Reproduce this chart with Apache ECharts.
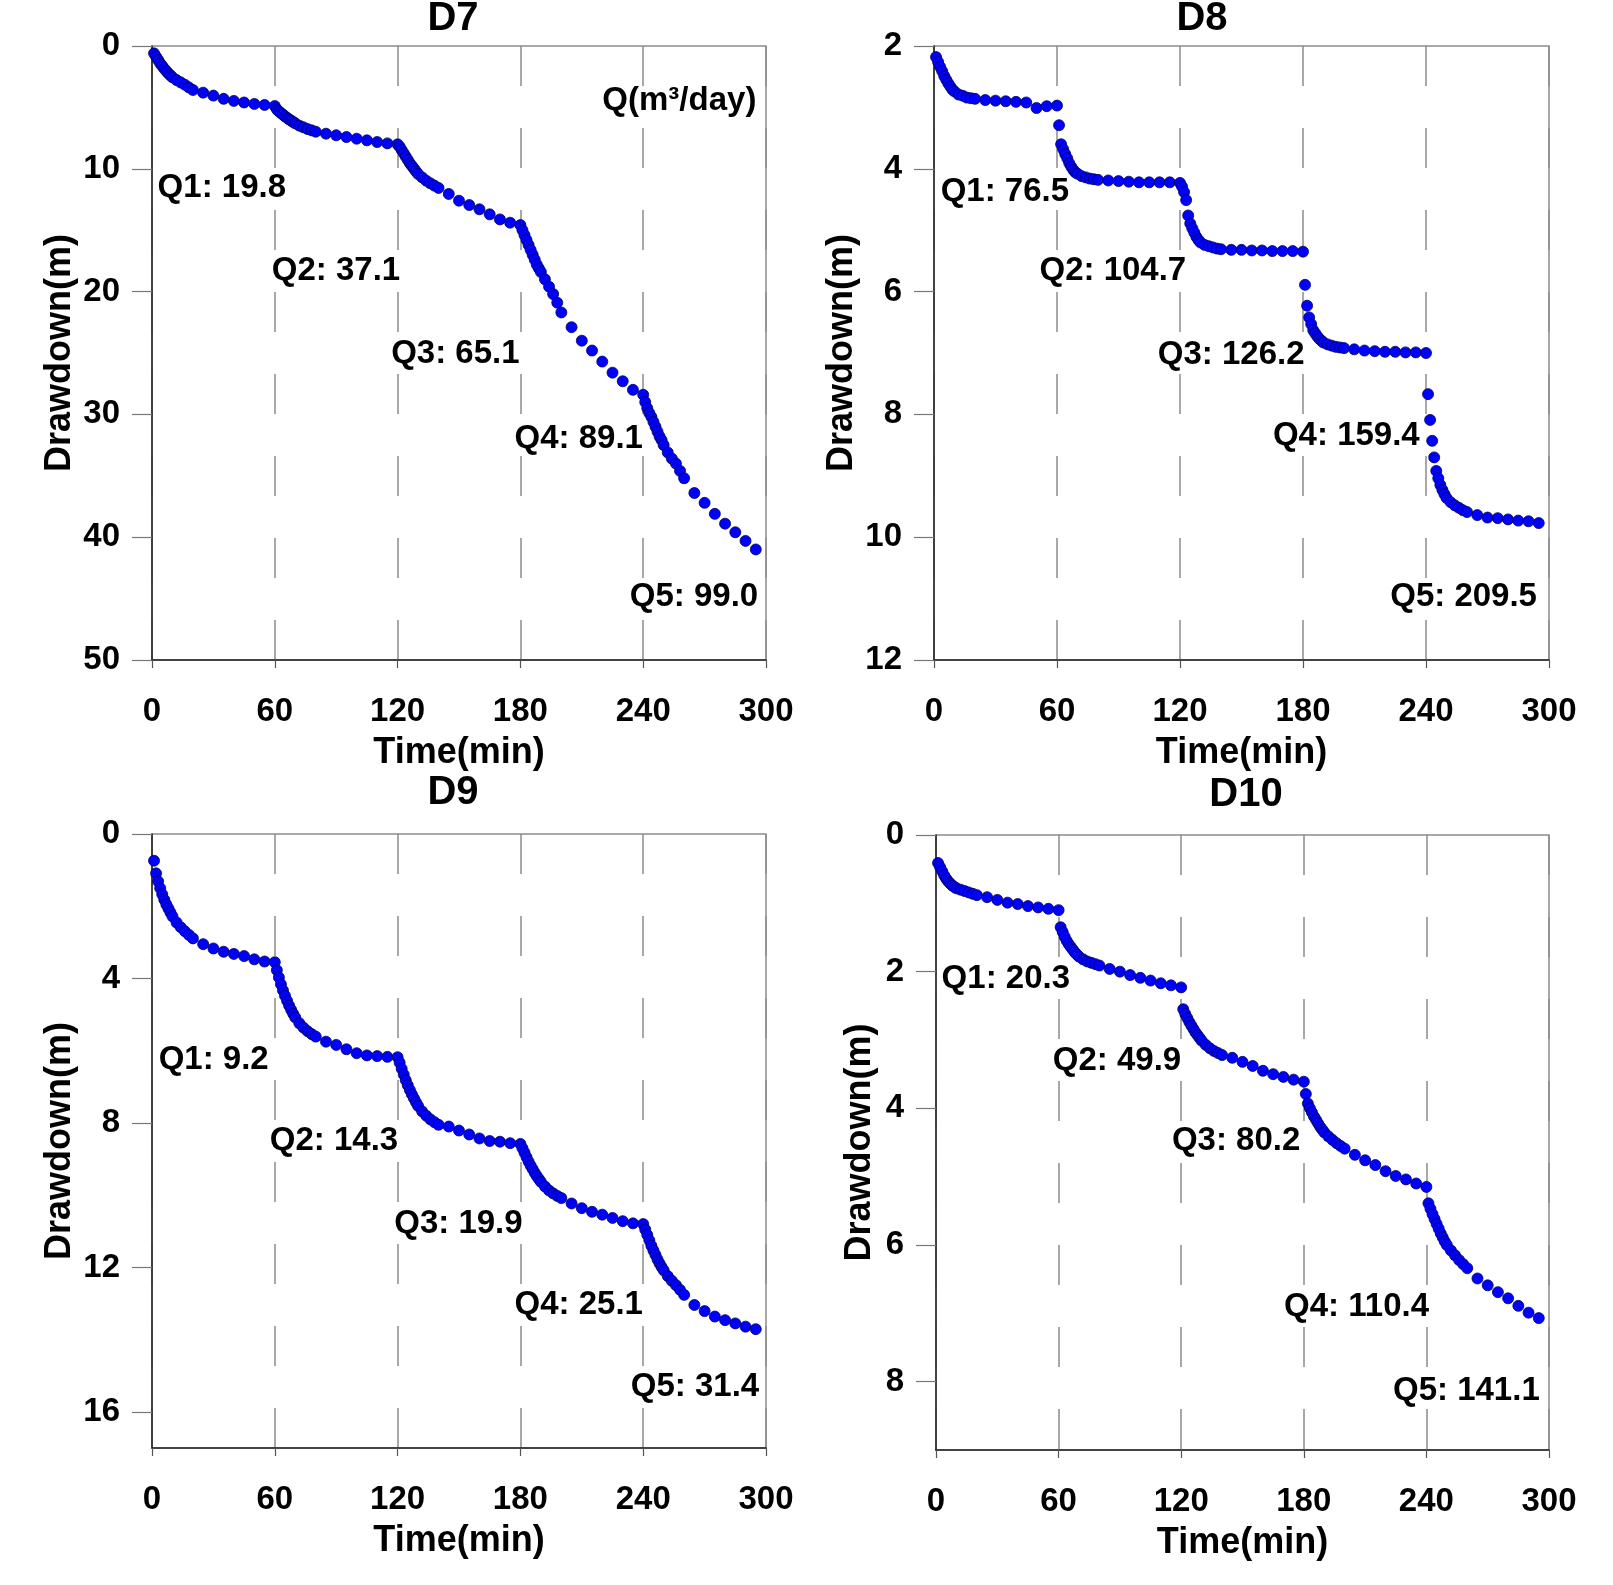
<!DOCTYPE html>
<html>
<head>
<meta charset="utf-8">
<script src="https://cdn.jsdelivr.net/npm/echarts@6/dist/echarts.min.js"></script>
<style>
  html, body { margin: 0; padding: 0; background: #fff; }
  #chart { width: 1613px; height: 1585px; }
</style>
</head>
<body>
<div id="chart"></div>
<script>
// sampling times (min), shared by all four wells
const time = [
  1, 2, 3, 4, 5, 6, 7, 8, 9, 10, 12, 14, 16, 18, 20, 25, 30, 35, 40, 45, 50, 55, 60,
  61, 62, 63, 64, 65, 66, 67, 68, 69, 70, 72, 74, 76, 78, 80, 85, 90, 95, 100, 105, 110, 115, 120,
  121, 122, 123, 124, 125, 126, 127, 128, 129, 130, 132, 134, 136, 138, 140, 145, 150, 155, 160, 165, 170, 175, 180,
  181, 182, 183, 184, 185, 186, 187, 188, 189, 190, 192, 194, 196, 198, 200, 205, 210, 215, 220, 225, 230, 235, 240,
  241, 242, 243, 244, 245, 246, 247, 248, 249, 250, 252, 254, 256, 258, 260, 265, 270, 275, 280, 285, 290, 295
];

// drawdown (m)
const d7 = [
  0.60, 0.87, 1.14, 1.41, 1.63, 1.85, 2.04, 2.23, 2.39, 2.55, 2.77, 2.96, 3.15, 3.37, 3.58, 3.80, 4.04, 4.30, 4.47, 4.60, 4.72, 4.80, 4.89,
  5.16, 5.32, 5.46, 5.59, 5.73, 5.86, 5.97, 6.08, 6.19, 6.30, 6.49, 6.62, 6.76, 6.87, 6.98, 7.14, 7.27, 7.41, 7.55, 7.68, 7.82, 7.93, 8.01,
  8.20, 8.47, 8.74, 9.01, 9.28, 9.55, 9.77, 9.99, 10.21, 10.42, 10.70, 10.97, 11.18, 11.37, 11.56, 12.05, 12.60, 12.95, 13.30, 13.71, 14.12, 14.39, 14.58,
  15.0, 15.4, 15.8, 16.2, 16.6, 17.0, 17.4, 17.8, 18.1, 18.4, 19.0, 19.6, 20.2, 20.9, 21.7, 22.9, 24.0, 24.8, 25.7, 26.6, 27.3, 28.0, 28.4,
  29.0, 29.5, 29.9, 30.2, 30.6, 31.0, 31.4, 31.8, 32.1, 32.5, 33.1, 33.6, 34.0, 34.6, 35.2, 36.4, 37.2, 38.1, 38.9, 39.6, 40.3, 41.0
];
const d8 = [
  2.18, 2.26, 2.34, 2.41, 2.49, 2.55, 2.61, 2.66, 2.71, 2.74, 2.79, 2.81, 2.84, 2.85, 2.86, 2.88, 2.89, 2.90, 2.91, 2.92, 3.01, 2.98, 2.97,
  3.29, 3.60, 3.68, 3.76, 3.83, 3.91, 3.97, 4.02, 4.06, 4.08, 4.12, 4.14, 4.16, 4.17, 4.18, 4.19, 4.20, 4.21, 4.22, 4.22, 4.22, 4.22, 4.23,
  4.29, 4.38, 4.51, 4.76, 4.89, 4.97, 5.04, 5.11, 5.16, 5.20, 5.24, 5.26, 5.28, 5.30, 5.31, 5.32, 5.32, 5.33, 5.33, 5.34, 5.34, 5.34, 5.35,
  5.89, 6.23, 6.42, 6.53, 6.63, 6.68, 6.73, 6.77, 6.80, 6.83, 6.86, 6.88, 6.90, 6.91, 6.92, 6.94, 6.96, 6.97, 6.98, 6.98, 6.99, 6.99, 7.00,
  7.67, 8.09, 8.43, 8.70, 8.92, 9.04, 9.15, 9.23, 9.30, 9.36, 9.43, 9.48, 9.52, 9.56, 9.59, 9.64, 9.68, 9.69, 9.71, 9.73, 9.74, 9.77
];
const d9 = [
  0.74, 1.09, 1.31, 1.50, 1.67, 1.82, 1.95, 2.06, 2.17, 2.28, 2.45, 2.58, 2.69, 2.79, 2.89, 3.05, 3.17, 3.26, 3.32, 3.38, 3.47, 3.53, 3.55,
  3.77, 3.97, 4.16, 4.33, 4.48, 4.62, 4.75, 4.87, 4.98, 5.08, 5.24, 5.36, 5.46, 5.54, 5.61, 5.75, 5.84, 5.96, 6.07, 6.13, 6.15, 6.17, 6.18,
  6.33, 6.50, 6.66, 6.82, 6.96, 7.09, 7.21, 7.32, 7.43, 7.53, 7.68, 7.80, 7.90, 7.98, 8.05, 8.10, 8.21, 8.32, 8.43, 8.50, 8.52, 8.56, 8.58,
  8.70, 8.82, 8.95, 9.07, 9.18, 9.28, 9.38, 9.47, 9.55, 9.63, 9.76, 9.87, 9.95, 10.02, 10.08, 10.23, 10.36, 10.46, 10.54, 10.63, 10.72, 10.78, 10.80,
  10.95, 11.10, 11.25, 11.40, 11.53, 11.65, 11.78, 11.89, 11.99, 12.08, 12.24, 12.37, 12.49, 12.62, 12.76, 13.04, 13.21, 13.36, 13.46, 13.55, 13.64, 13.71
];
const d10 = [
  0.41, 0.47, 0.53, 0.59, 0.64, 0.68, 0.71, 0.74, 0.76, 0.78, 0.80, 0.82, 0.84, 0.86, 0.88, 0.91, 0.95, 0.99, 1.01, 1.04, 1.06, 1.08, 1.10,
  1.35, 1.42, 1.49, 1.55, 1.60, 1.64, 1.68, 1.72, 1.75, 1.78, 1.82, 1.85, 1.87, 1.89, 1.91, 1.96, 2.00, 2.05, 2.09, 2.13, 2.17, 2.20, 2.23,
  2.55, 2.62, 2.68, 2.74, 2.79, 2.84, 2.89, 2.93, 2.97, 3.01, 3.07, 3.12, 3.16, 3.19, 3.22, 3.26, 3.32, 3.38, 3.45, 3.50, 3.54, 3.58, 3.61,
  3.79, 3.93, 4.00, 4.06, 4.12, 4.17, 4.22, 4.27, 4.31, 4.35, 4.41, 4.46, 4.51, 4.55, 4.59, 4.68, 4.76, 4.83, 4.92, 4.99, 5.04, 5.10, 5.15,
  5.39, 5.47, 5.55, 5.62, 5.69, 5.76, 5.83, 5.89, 5.95, 6.00, 6.08, 6.15, 6.22, 6.28, 6.34, 6.49, 6.59, 6.69, 6.78, 6.89, 6.99, 7.07
];

// pumping rate labels (m3/day) and where they sit, in [time, drawdown]
const q7 = ['Q1: 19.8', 'Q2: 37.1', 'Q3: 65.1', 'Q4: 89.1', 'Q5: 99.0', 'Q(m³/day)'];
const q7At = [[2.5, 11.56], [58.3, 18.34], [116.6, 25.1], [176.9, 32.0], [233.2, 44.9], [219.8, 4.48]];
const q8 = ['Q1: 76.5', 'Q2: 104.7', 'Q3: 126.2', 'Q4: 159.4', 'Q5: 209.5'];
const q8At = [[3.0, 4.38], [51.2, 5.67], [108.9, 7.03], [165.1, 8.35], [222.3, 10.98]];
const q9 = ['Q1: 9.2', 'Q2: 14.3', 'Q3: 19.9', 'Q4: 25.1', 'Q5: 31.4'];
const q9At = [[3.0, 6.26], [57.3, 8.49], [118.1, 10.79], [176.9, 13.04], [233.7, 15.32]];
const q10 = ['Q1: 20.3', 'Q2: 49.9', 'Q3: 80.2', 'Q4: 110.4', 'Q5: 141.1'];
const q10At = [[2.5, 2.11], [56.9, 3.31], [115.2, 4.47], [170.1, 6.90], [223.4, 8.13]];

const xTicks = [0, 60, 120, 180, 240, 300];
const y7Ticks = [0, 10, 20, 30, 40, 50];
const y8Ticks = [2, 4, 6, 8, 10, 12];
const y9Ticks = [0, 4, 8, 12, 16];
const y10Ticks = [0, 2, 4, 6, 8];

const FONT = '"Liberation Sans", Arial, Helvetica, sans-serif';
const panels = [
  { title: 'D7', ys: d7, q: q7, qAt: q7At, yTicks: y7Ticks, yMin: 0, yMax: 50, yStep: 10,
    grid: { left: 152, top: 46, width: 614, height: 614 }, titleAt: [453, 19], nameGap: 74 },
  { title: 'D8', ys: d8, q: q8, qAt: q8At, yTicks: y8Ticks, yMin: 2, yMax: 12, yStep: 2,
    grid: { left: 934, top: 46, width: 615, height: 614 }, titleAt: [1202, 19], nameGap: 74 },
  { title: 'D9', ys: d9, q: q9, qAt: q9At, yTicks: y9Ticks, yMin: 0, yMax: 17, yStep: 4,
    grid: { left: 152, top: 834, width: 614, height: 614 }, titleAt: [453, 793], nameGap: 74 },
  { title: 'D10', ys: d10, q: q10, qAt: q10At, yTicks: y10Ticks, yMin: 0, yMax: 9, yStep: 2,
    grid: { left: 936, top: 835, width: 613, height: 615 }, titleAt: [1246, 795], nameGap: 58 }
];

const boxColor = '#8c8c8c';
const textStyle = { fontFamily: FONT, fontWeight: 'bold', color: '#000' };

const option = {
  backgroundColor: '#fff',
  animation: false,
  grid: [],
  xAxis: [],
  yAxis: [],
  series: [],
  graphic: []
};

panels.forEach((p, i) => {
  option.grid.push(Object.assign({ show: true, borderColor: boxColor, borderWidth: 1.5 }, p.grid));

  option.xAxis.push({
    gridIndex: i,
    type: 'value',
    position: 'bottom',
    min: 0,
    max: 300,
    interval: 60,
    name: 'Time(min)',
    nameLocation: 'middle',
    nameGap: 75,
    nameTextStyle: Object.assign({ fontSize: 36 }, textStyle),
    axisLine: { show: true, onZero: false, lineStyle: { color: '#222', width: 1.5 } },
    axisTick: { show: true, length: 8, lineStyle: { color: '#555', width: 1.2 }, customValues: xTicks },
    axisLabel: Object.assign({ margin: 35, fontSize: 33, customValues: xTicks }, textStyle),
    splitLine: { show: true, lineStyle: { color: boxColor, width: 1.5, type: [40, 42] } }
  });

  option.yAxis.push({
    gridIndex: i,
    type: 'value',
    inverse: true,
    min: p.yMin,
    max: p.yMax,
    interval: p.yStep,
    name: 'Drawdown(m)',
    nameLocation: 'middle',
    nameGap: p.nameGap,
    nameTextStyle: Object.assign({ fontSize: 36 }, textStyle),
    axisLine: { show: true, onZero: false, lineStyle: { color: '#222', width: 1.5 } },
    axisTick: { show: true, length: 20, lineStyle: { color: '#777', width: 1.2 }, customValues: p.yTicks },
    axisLabel: Object.assign({ margin: 32, fontSize: 33, customValues: p.yTicks }, textStyle),
    splitLine: { show: false }
  });

  option.series.push({
    type: 'scatter',
    xAxisIndex: i,
    yAxisIndex: i,
    symbol: 'circle',
    symbolSize: 11,
    itemStyle: { color: '#0000ff', borderColor: '#00005a', borderWidth: 0.8, opacity: 1 },
    data: time.map((t, k) => [t, p.ys[k]]),
    z: 3
  });

  option.series.push({
    type: 'scatter',
    xAxisIndex: i,
    yAxisIndex: i,
    silent: true,
    symbolSize: 1,
    itemStyle: { color: 'rgba(0,0,0,0)', opacity: 1 },
    label: Object.assign({ show: true, position: 'right', distance: 0, fontSize: 33,
      opacity: 1, textBorderWidth: 0, formatter: '{b}' }, textStyle),
    data: p.q.map((txt, k) => ({ name: txt, value: p.qAt[k] })),
    z: 4
  });

  option.graphic.push({
    type: 'text',
    x: p.titleAt[0],
    y: p.titleAt[1],
    style: {
      text: p.title,
      fill: '#000',
      font: 'bold 40px ' + FONT,
      textAlign: 'center',
      textVerticalAlign: 'middle'
    }
  });
});

const chart = echarts.init(document.getElementById('chart'), null, { renderer: 'canvas' });
chart.setOption(option);
</script>
</body>
</html>
